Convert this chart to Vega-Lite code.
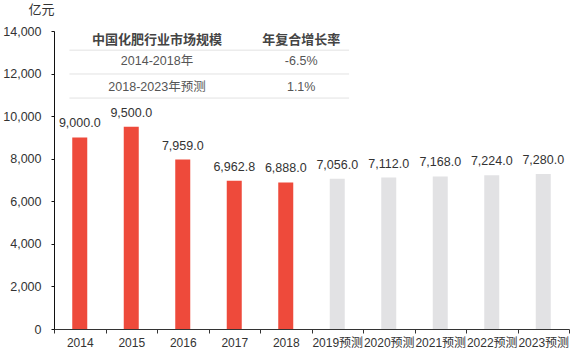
{
  "$schema": "https://vega.github.io/schema/vega-lite/v6.json",
  "width": 515,
  "height": 298,
  "autosize": {"type": "none"},
  "padding": {"left": 54, "top": 31, "right": 6, "bottom": 28},
  "background": "white",
  "config": {
    "view": {"stroke": null},
    "font": "Liberation Sans",
    "text": {"font": "Liberation Sans, Noto Sans CJK SC"}
  },
  "datasets": {
    "bars": [
      {"year": "2014", "value": 9000.0, "type": "实际"},
      {"year": "2015", "value": 9500.0, "type": "实际"},
      {"year": "2016", "value": 7959.0, "type": "实际"},
      {"year": "2017", "value": 6962.8, "type": "实际"},
      {"year": "2018", "value": 6888.0, "type": "实际"},
      {"year": "2019预测", "value": 7056.0, "type": "预测"},
      {"year": "2020预测", "value": 7112.0, "type": "预测"},
      {"year": "2021预测", "value": 7168.0, "type": "预测"},
      {"year": "2022预测", "value": 7224.0, "type": "预测"},
      {"year": "2023预测", "value": 7280.0, "type": "预测"}
    ],
    "header": [
      {"c1": "中国化肥行业市场规模", "c2": "年复合增长率", "pos": 13580}
    ],
    "table": [
      {"c1": "2014-2018年", "c2": "-6.5%", "pos": 12590},
      {"c1": "2018-2023年预测", "c2": "1.1%", "pos": 11370}
    ],
    "lines": [
      {"pos": 13100},
      {"pos": 11980},
      {"pos": 10850}
    ]
  },
  "layer": [
    {
      "data": {"name": "bars"},
      "mark": {"type": "bar", "size": 15},
      "encoding": {
        "x": {
          "field": "year", "type": "nominal", "sort": null,
          "scale": {"paddingInner": 0, "paddingOuter": 0},
          "axis": {
            "title": null, "labelAngle": 0, "labelFontSize": 12, "labelColor": "#333",
            "labelFont": "Liberation Sans, Noto Sans CJK SC",
            "domainColor": "#333", "tickColor": "#333", "tickSize": 4,
            "tickBand": "extent", "labelPadding": 4, "labelOverlap": false
          }
        },
        "y": {
          "field": "value", "type": "quantitative",
          "scale": {"domain": [0, 14000]},
          "axis": {
            "title": "亿元", "titleAngle": 0, "titleAlign": "left", "titleBaseline": "middle",
            "titleX": -26, "titleY": -22, "titleFontSize": 13, "titleFontWeight": "normal",
            "titleColor": "#333", "titleFont": "Noto Sans CJK SC",
            "values": [0, 2000, 4000, 6000, 8000, 10000, 12000, 14000],
            "format": ",d", "grid": false, "labelFontSize": 12.5, "labelColor": "#333",
            "domainColor": "#111", "tickColor": "#111", "tickSize": 3, "labelPadding": 10
          }
        },
        "color": {
          "field": "type", "type": "nominal", "legend": null,
          "scale": {"domain": ["实际", "预测"], "range": ["#EE4A3B", "#E2E2E4"]}
        }
      }
    },
    {
      "data": {"name": "bars"},
      "mark": {"type": "text", "dy": -14, "fontSize": 12.5, "color": "#333"},
      "encoding": {
        "x": {"field": "year", "type": "nominal", "sort": null},
        "y": {"field": "value", "type": "quantitative"},
        "text": {"field": "value", "type": "quantitative", "format": ",.1f"}
      }
    },
    {
      "data": {"name": "lines"},
      "mark": {"type": "rule", "color": "#E2E2E2", "strokeWidth": 1},
      "encoding": {
        "x": {"datum": "2014", "bandPosition": 0.3},
        "x2": {"datum": "2019预测", "bandPosition": 0.73},
        "y": {"field": "pos", "type": "quantitative"}
      }
    },
    {
      "data": {"name": "header"},
      "mark": {"type": "text", "fontSize": 13, "color": "#444", "font": "Noto Sans CJK SC", "fontWeight": 700},
      "encoding": {
        "x": {"datum": "2015", "bandPosition": 1},
        "y": {"field": "pos", "type": "quantitative"},
        "text": {"field": "c1"}
      }
    },
    {
      "data": {"name": "header"},
      "mark": {"type": "text", "fontSize": 13, "color": "#444", "font": "Noto Sans CJK SC", "fontWeight": 700},
      "encoding": {
        "x": {"datum": "2018", "bandPosition": 0.8},
        "y": {"field": "pos", "type": "quantitative"},
        "text": {"field": "c2"}
      }
    },
    {
      "data": {"name": "table"},
      "mark": {"type": "text", "fontSize": 12.5, "color": "#555", "font": "Liberation Sans, Noto Sans CJK SC"},
      "encoding": {
        "x": {"datum": "2015", "bandPosition": 1},
        "y": {"field": "pos", "type": "quantitative"},
        "text": {"field": "c1"}
      }
    },
    {
      "data": {"name": "table"},
      "mark": {"type": "text", "fontSize": 12.5, "color": "#555", "font": "Liberation Sans, Noto Sans CJK SC"},
      "encoding": {
        "x": {"datum": "2018", "bandPosition": 0.8},
        "y": {"field": "pos", "type": "quantitative"},
        "text": {"field": "c2"}
      }
    }
  ]
}
